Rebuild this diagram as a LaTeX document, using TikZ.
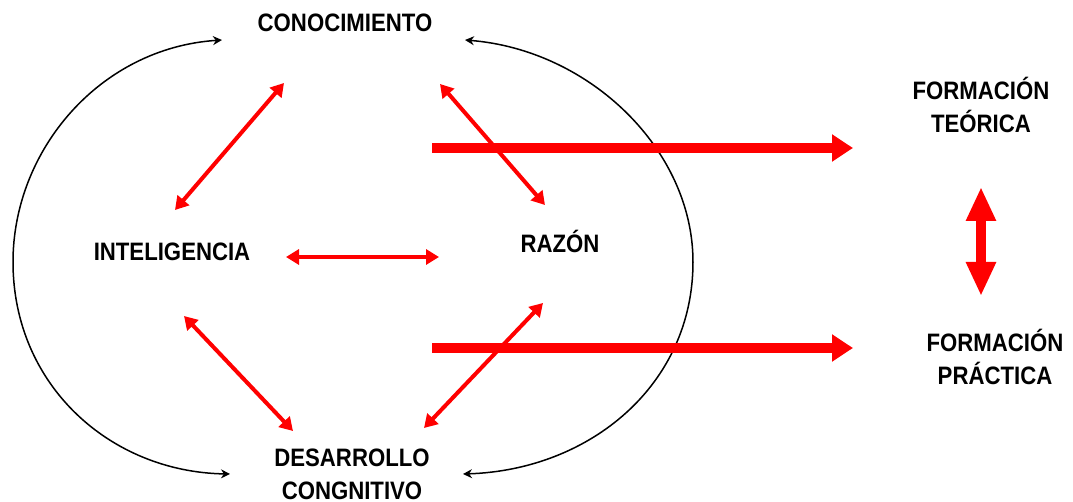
\documentclass[tikz,border=0pt]{standalone}
\usepackage{fontspec}
\setmainfont{Liberation Sans}[FakeStretch=0.88]
\usetikzlibrary{arrows.meta}
\begin{document}
\begin{tikzpicture}[x=0.5pt,y=-0.5pt,
  lbl/.style={font=\bfseries\fontsize{12.6}{16.5}\selectfont, align=center, inner sep=0pt, anchor=base},
  blk/.style={line width=0.75pt, black, {Stealth[length=4.5pt,width=4.5pt]}-{Stealth[length=4.5pt,width=4.5pt]}},
  rel/.style={line width=2pt, red, {Triangle[length=6.5pt,width=7.5pt]}-{Triangle[length=6.5pt,width=7.5pt]}},
  big/.style={line width=5pt, red, -{Triangle[length=10.5pt,width=13pt]}},
  vbig/.style={line width=5pt, red, {Triangle[length=17pt,width=14pt]}-{Triangle[length=17pt,width=14pt]}}]
\useasboundingbox (0,0) rectangle (1073,502);
% labels (base anchor of a two-line node = baseline of its last line)
\node[lbl] (cono) at (345,32) {CONOCIMIENTO};
\node[lbl] (intel) at (172,261) {INTELIGENCIA};
\node[lbl] (razon) at (560,253) {RAZÓN};
\node[lbl] (des) at (352,500) {DESARROLLO\\CONGNITIVO};
\node[lbl] (teo) at (981,133) {FORMACIÓN\\TEÓRICA};
\node[lbl] (pra) at (995,385) {FORMACIÓN\\PRÁCTICA};
% coordinates
\coordinate (lt) at (222,40);
\coordinate (lm) at (13,262);
\coordinate (lb) at (230,474);
\coordinate (rt) at (465,40);
\coordinate (rm) at (693,262);
\coordinate (rb) at (463,474);
\coordinate (ic1) at (175,210);
\coordinate (ic2) at (284,83);
\coordinate (cr1) at (440,84);
\coordinate (cr2) at (545,205);
\coordinate (ir1) at (286,257);
\coordinate (ir2) at (439,257);
\coordinate (id1) at (184,316);
\coordinate (id2) at (293,431);
\coordinate (rd1) at (543,303);
\coordinate (rd2) at (424,428);
\coordinate (t1) at (432,148);
\coordinate (t2) at (853,148);
\coordinate (p1) at (432,348);
\coordinate (p2) at (853,348);
\coordinate (v1) at (981,187);
\coordinate (v2) at (981,296);
% black curves
\draw[blk] (lt) .. controls (100,48) and (13,150) .. (lm) .. controls (13,385) and (110,472) .. (lb);
\draw[blk] (rt) .. controls (590,50) and (693,150) .. (rm) .. controls (693,385) and (590,470) .. (rb);
% red relations
\draw[rel] (ic1) -- (ic2);
\draw[rel] (cr1) -- (cr2);
\draw[rel] (ir1) -- (ir2);
\draw[rel] (id1) -- (id2);
\draw[rel] (rd1) -- (rd2);
% big arrows
\draw[big] (t1) -- (t2);
\draw[big] (p1) -- (p2);
\draw[vbig] (v1) -- (v2);
\end{tikzpicture}
\end{document}
